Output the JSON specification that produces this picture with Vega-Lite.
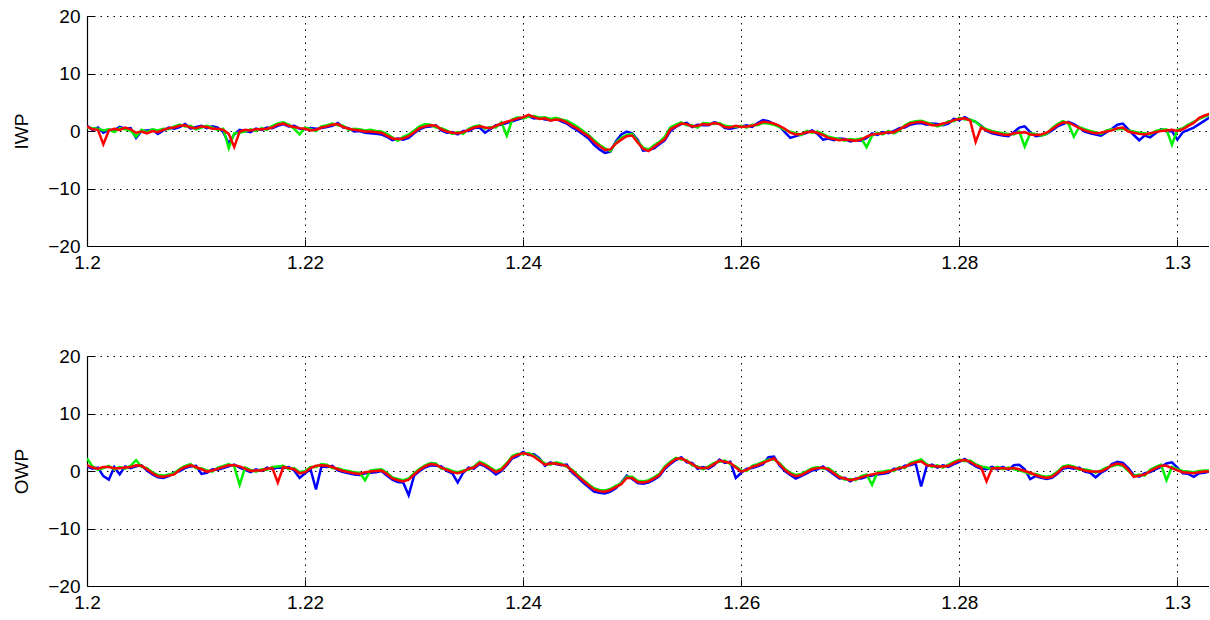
{
"$schema":"https://vega.github.io/schema/vega-lite/v6.json",
"padding":{"left":12,"top":7,"right":0,"bottom":0},
"config":{"view":{"stroke":null},"font":"Liberation Sans",
"axis":{"domainColor":"#000","domainWidth":1.2,"tickColor":"#000","tickSize":-7,"labelPadding":14,"labelFont":"Liberation Sans","labelFontSize":19,"labelColor":"#000","titleFont":"Liberation Sans","titleFontSize":19,"titleFontWeight":"normal","titleColor":"#000","gridColor":"#000","gridDash":[1.5,5],"gridOpacity":1,"gridWidth":1,"titlePadding":16,"labelFlush":false}},
"data":{"values":[
{"x":1.2,"p":"IWP","r":0.8,"g":0.6,"b":0.9},{"x":1.2005,"p":"IWP","r":0.3,"g":0.5,"b":0.2},{"x":1.201,"p":"IWP","r":0.2,"g":0.4,"b":0.6},{"x":1.2015,"p":"IWP","r":-2.3,"g":0.1,"b":-0.3},{"x":1.202,"p":"IWP","r":0.1,"g":0.3,"b":0.2},{"x":1.2025,"p":"IWP","r":0.4,"g":-0.2,"b":0.1},{"x":1.203,"p":"IWP","r":0.2,"g":0.5,"b":0.7},{"x":1.2035,"p":"IWP","r":0.6,"g":0.3,"b":0.4},{"x":1.204,"p":"IWP","r":0.3,"g":0.1,"b":0.5},{"x":1.2045,"p":"IWP","r":-0.3,"g":-1.0,"b":-1.2},
{"x":1.205,"p":"IWP","r":-0.1,"g":0.2,"b":0.0},{"x":1.2055,"p":"IWP","r":-0.4,"g":-0.2,"b":0.1},{"x":1.206,"p":"IWP","r":0.0,"g":0.3,"b":0.2},{"x":1.2065,"p":"IWP","r":-0.2,"g":0.1,"b":-0.5},{"x":1.207,"p":"IWP","r":0.2,"g":0.4,"b":0.1},{"x":1.2075,"p":"IWP","r":0.5,"g":0.3,"b":0.6},{"x":1.208,"p":"IWP","r":0.6,"g":0.8,"b":0.4},{"x":1.2085,"p":"IWP","r":0.9,"g":1.1,"b":0.7},{"x":1.209,"p":"IWP","r":1.0,"g":0.8,"b":1.2},{"x":1.2095,"p":"IWP","r":0.6,"g":0.9,"b":0.4},
{"x":1.21,"p":"IWP","r":0.5,"g":0.3,"b":0.7},{"x":1.2105,"p":"IWP","r":0.8,"g":0.6,"b":0.9},{"x":1.211,"p":"IWP","r":0.7,"g":0.9,"b":0.5},{"x":1.2115,"p":"IWP","r":0.4,"g":0.6,"b":0.8},{"x":1.212,"p":"IWP","r":0.4,"g":0.2,"b":0.6},{"x":1.2125,"p":"IWP","r":0.2,"g":0.4,"b":-0.2},{"x":1.213,"p":"IWP","r":-0.5,"g":-3.0,"b":-2.2},{"x":1.2135,"p":"IWP","r":-2.8,"g":-0.4,"b":-0.6},{"x":1.214,"p":"IWP","r":-0.1,"g":-0.3,"b":0.2},{"x":1.2145,"p":"IWP","r":0.2,"g":-0.1,"b":0.0},
{"x":1.215,"p":"IWP","r":0.1,"g":0.3,"b":-0.2},{"x":1.2155,"p":"IWP","r":0.3,"g":0.0,"b":0.4},{"x":1.216,"p":"IWP","r":0.3,"g":0.5,"b":0.2},{"x":1.2165,"p":"IWP","r":0.4,"g":0.2,"b":0.6},{"x":1.217,"p":"IWP","r":0.6,"g":0.9,"b":0.5},{"x":1.2175,"p":"IWP","r":1.1,"g":1.3,"b":0.9},{"x":1.218,"p":"IWP","r":1.3,"g":1.5,"b":1.2},{"x":1.2185,"p":"IWP","r":0.9,"g":1.1,"b":0.8},{"x":1.219,"p":"IWP","r":0.7,"g":0.4,"b":0.9},{"x":1.2195,"p":"IWP","r":0.5,"g":-0.6,"b":0.4},
{"x":1.22,"p":"IWP","r":0.4,"g":0.6,"b":0.3},{"x":1.2205,"p":"IWP","r":0.1,"g":0.3,"b":0.5},{"x":1.221,"p":"IWP","r":0.2,"g":0.0,"b":0.4},{"x":1.2215,"p":"IWP","r":0.6,"g":0.8,"b":0.5},{"x":1.222,"p":"IWP","r":0.8,"g":1.0,"b":0.7},{"x":1.2225,"p":"IWP","r":1.1,"g":1.3,"b":0.9},{"x":1.223,"p":"IWP","r":1.2,"g":1.0,"b":1.4},{"x":1.2235,"p":"IWP","r":0.7,"g":0.9,"b":0.6},{"x":1.224,"p":"IWP","r":0.4,"g":0.2,"b":0.5},{"x":1.2245,"p":"IWP","r":0.2,"g":0.4,"b":-0.1},
{"x":1.225,"p":"IWP","r":0.1,"g":0.3,"b":0.0},{"x":1.2255,"p":"IWP","r":-0.1,"g":0.1,"b":-0.3},{"x":1.226,"p":"IWP","r":-0.1,"g":0.2,"b":-0.4},{"x":1.2265,"p":"IWP","r":-0.2,"g":0.0,"b":-0.5},{"x":1.227,"p":"IWP","r":-0.3,"g":-0.1,"b":-0.6},{"x":1.2275,"p":"IWP","r":-0.8,"g":-0.5,"b":-1.0},{"x":1.228,"p":"IWP","r":-1.3,"g":-1.1,"b":-1.6},{"x":1.2285,"p":"IWP","r":-1.4,"g":-1.7,"b":-1.3},{"x":1.229,"p":"IWP","r":-1.3,"g":-1.0,"b":-1.5},{"x":1.2295,"p":"IWP","r":-0.9,"g":-0.6,"b":-1.2},
{"x":1.23,"p":"IWP","r":-0.2,"g":0.1,"b":-0.4},{"x":1.2305,"p":"IWP","r":0.5,"g":0.8,"b":0.3},{"x":1.231,"p":"IWP","r":0.8,"g":1.2,"b":0.7},{"x":1.2315,"p":"IWP","r":1.0,"g":1.1,"b":0.8},{"x":1.232,"p":"IWP","r":0.9,"g":0.6,"b":1.0},{"x":1.2325,"p":"IWP","r":0.3,"g":0.5,"b":0.1},{"x":1.233,"p":"IWP","r":-0.1,"g":0.1,"b":-0.3},{"x":1.2335,"p":"IWP","r":-0.3,"g":-0.5,"b":-0.2},{"x":1.234,"p":"IWP","r":-0.4,"g":-0.2,"b":-0.6},{"x":1.2345,"p":"IWP","r":-0.2,"g":-0.5,"b":0.0},
{"x":1.235,"p":"IWP","r":0.2,"g":0.4,"b":0.0},{"x":1.2355,"p":"IWP","r":0.6,"g":0.8,"b":0.5},{"x":1.236,"p":"IWP","r":0.8,"g":1.0,"b":0.6},{"x":1.2365,"p":"IWP","r":0.6,"g":0.4,"b":-0.3},{"x":1.237,"p":"IWP","r":0.5,"g":0.7,"b":0.3},{"x":1.2375,"p":"IWP","r":0.9,"g":0.6,"b":1.0},{"x":1.238,"p":"IWP","r":1.3,"g":1.5,"b":1.1},{"x":1.2385,"p":"IWP","r":1.6,"g":-0.8,"b":1.4},{"x":1.239,"p":"IWP","r":1.9,"g":2.0,"b":1.7},{"x":1.2395,"p":"IWP","r":2.2,"g":2.4,"b":2.0},
{"x":1.24,"p":"IWP","r":2.4,"g":2.2,"b":2.3},{"x":1.2405,"p":"IWP","r":2.8,"g":2.5,"b":2.6},{"x":1.241,"p":"IWP","r":2.4,"g":2.6,"b":2.2},{"x":1.2415,"p":"IWP","r":2.1,"g":2.3,"b":2.3},{"x":1.242,"p":"IWP","r":2.2,"g":2.4,"b":2.0},{"x":1.2425,"p":"IWP","r":1.8,"g":2.1,"b":1.9},{"x":1.243,"p":"IWP","r":2.0,"g":2.3,"b":2.1},{"x":1.2435,"p":"IWP","r":1.9,"g":2.0,"b":1.7},{"x":1.244,"p":"IWP","r":1.5,"g":1.8,"b":1.3},{"x":1.2445,"p":"IWP","r":0.9,"g":1.3,"b":0.6},
{"x":1.245,"p":"IWP","r":0.4,"g":0.7,"b":0.1},{"x":1.2455,"p":"IWP","r":-0.3,"g":0.0,"b":-0.6},{"x":1.246,"p":"IWP","r":-0.9,"g":-0.7,"b":-1.3},{"x":1.2465,"p":"IWP","r":-1.9,"g":-1.6,"b":-2.4},{"x":1.247,"p":"IWP","r":-2.6,"g":-2.4,"b":-3.2},{"x":1.2475,"p":"IWP","r":-3.3,"g":-3.0,"b":-3.8},{"x":1.248,"p":"IWP","r":-3.2,"g":-3.5,"b":-3.6},{"x":1.2485,"p":"IWP","r":-2.2,"g":-2.0,"b":-1.8},{"x":1.249,"p":"IWP","r":-1.5,"g":-1.2,"b":-0.6},{"x":1.2495,"p":"IWP","r":-0.9,"g":-0.7,"b":-0.1},
{"x":1.25,"p":"IWP","r":-0.8,"g":-0.5,"b":-0.4},{"x":1.2505,"p":"IWP","r":-2.0,"g":-1.8,"b":-1.5},{"x":1.251,"p":"IWP","r":-3.1,"g":-2.9,"b":-3.4},{"x":1.2515,"p":"IWP","r":-3.5,"g":-3.2,"b":-3.3},{"x":1.252,"p":"IWP","r":-2.8,"g":-2.5,"b":-3.0},{"x":1.2525,"p":"IWP","r":-2.1,"g":-1.9,"b":-2.3},{"x":1.253,"p":"IWP","r":-1.4,"g":-1.0,"b":-1.6},{"x":1.2535,"p":"IWP","r":0.3,"g":0.6,"b":0.0},{"x":1.254,"p":"IWP","r":0.8,"g":1.1,"b":0.7},{"x":1.2545,"p":"IWP","r":1.3,"g":1.5,"b":1.2},
{"x":1.255,"p":"IWP","r":1.2,"g":1.0,"b":1.4},{"x":1.2555,"p":"IWP","r":0.8,"g":1.0,"b":0.7},{"x":1.256,"p":"IWP","r":0.9,"g":0.6,"b":1.1},{"x":1.2565,"p":"IWP","r":1.2,"g":1.4,"b":1.0},{"x":1.257,"p":"IWP","r":1.1,"g":1.3,"b":1.0},{"x":1.2575,"p":"IWP","r":1.4,"g":1.2,"b":1.5},{"x":1.258,"p":"IWP","r":1.2,"g":1.4,"b":1.3},{"x":1.2585,"p":"IWP","r":0.7,"g":0.9,"b":0.5},{"x":1.259,"p":"IWP","r":0.6,"g":0.8,"b":0.4},{"x":1.2595,"p":"IWP","r":0.9,"g":0.7,"b":0.6},
{"x":1.26,"p":"IWP","r":0.7,"g":0.9,"b":0.8},{"x":1.2605,"p":"IWP","r":0.8,"g":0.6,"b":1.0},{"x":1.261,"p":"IWP","r":0.9,"g":1.1,"b":0.7},{"x":1.2615,"p":"IWP","r":1.2,"g":1.0,"b":1.4},{"x":1.262,"p":"IWP","r":1.6,"g":1.4,"b":1.9},{"x":1.2625,"p":"IWP","r":1.5,"g":1.3,"b":1.7},{"x":1.263,"p":"IWP","r":1.3,"g":1.1,"b":1.2},{"x":1.2635,"p":"IWP","r":0.9,"g":0.7,"b":0.8},{"x":1.264,"p":"IWP","r":0.4,"g":0.2,"b":-0.2},{"x":1.2645,"p":"IWP","r":-0.3,"g":-0.1,"b":-1.2},
{"x":1.265,"p":"IWP","r":-0.6,"g":-0.4,"b":-0.9},{"x":1.2655,"p":"IWP","r":-0.5,"g":-0.7,"b":-0.6},{"x":1.266,"p":"IWP","r":-0.2,"g":0.0,"b":-0.3},{"x":1.2665,"p":"IWP","r":-0.1,"g":-0.3,"b":0.1},{"x":1.267,"p":"IWP","r":-0.3,"g":-0.1,"b":-0.5},{"x":1.2675,"p":"IWP","r":-0.7,"g":-0.5,"b":-1.5},{"x":1.268,"p":"IWP","r":-1.2,"g":-1.0,"b":-1.3},{"x":1.2685,"p":"IWP","r":-1.4,"g":-1.2,"b":-1.6},{"x":1.269,"p":"IWP","r":-1.6,"g":-1.4,"b":-1.3},{"x":1.2695,"p":"IWP","r":-1.5,"g":-1.7,"b":-1.4},
{"x":1.27,"p":"IWP","r":-1.6,"g":-1.4,"b":-1.8},{"x":1.2705,"p":"IWP","r":-1.7,"g":-1.5,"b":-1.6},{"x":1.271,"p":"IWP","r":-1.5,"g":-1.3,"b":-1.7},{"x":1.2715,"p":"IWP","r":-1.0,"g":-2.8,"b":-1.2},{"x":1.272,"p":"IWP","r":-0.6,"g":-0.8,"b":-0.4},{"x":1.2725,"p":"IWP","r":-0.5,"g":-0.3,"b":-0.7},{"x":1.273,"p":"IWP","r":-0.4,"g":-0.6,"b":-0.2},{"x":1.2735,"p":"IWP","r":-0.2,"g":0.0,"b":-0.4},{"x":1.274,"p":"IWP","r":-0.2,"g":-0.4,"b":0.0},{"x":1.2745,"p":"IWP","r":0.3,"g":0.1,"b":0.5},
{"x":1.275,"p":"IWP","r":0.8,"g":1.0,"b":0.6},{"x":1.2755,"p":"IWP","r":1.3,"g":1.5,"b":1.1},{"x":1.276,"p":"IWP","r":1.5,"g":1.7,"b":1.3},{"x":1.2765,"p":"IWP","r":1.6,"g":1.8,"b":1.4},{"x":1.277,"p":"IWP","r":1.3,"g":1.5,"b":1.1},{"x":1.2775,"p":"IWP","r":1.0,"g":1.2,"b":1.3},{"x":1.278,"p":"IWP","r":1.0,"g":0.8,"b":1.2},{"x":1.2785,"p":"IWP","r":1.3,"g":1.1,"b":1.0},{"x":1.279,"p":"IWP","r":1.5,"g":1.7,"b":1.3},{"x":1.2795,"p":"IWP","r":1.9,"g":1.7,"b":2.1},
{"x":1.28,"p":"IWP","r":2.1,"g":2.3,"b":1.9},{"x":1.2805,"p":"IWP","r":2.2,"g":2.0,"b":2.4},{"x":1.281,"p":"IWP","r":1.8,"g":2.0,"b":1.9},{"x":1.2815,"p":"IWP","r":-1.9,"g":1.6,"b":1.6},{"x":1.282,"p":"IWP","r":0.6,"g":0.8,"b":0.9},{"x":1.2825,"p":"IWP","r":0.1,"g":0.3,"b":0.0},{"x":1.283,"p":"IWP","r":-0.2,"g":0.0,"b":-0.4},{"x":1.2835,"p":"IWP","r":-0.4,"g":-0.2,"b":-0.6},{"x":1.284,"p":"IWP","r":-0.6,"g":-0.4,"b":-0.8},{"x":1.2845,"p":"IWP","r":-0.7,"g":-0.5,"b":-0.9},
{"x":1.285,"p":"IWP","r":-0.4,"g":-0.6,"b":-0.2},{"x":1.2855,"p":"IWP","r":-0.3,"g":-0.1,"b":0.6},{"x":1.286,"p":"IWP","r":-0.2,"g":-2.7,"b":0.8},{"x":1.2865,"p":"IWP","r":-0.6,"g":-0.4,"b":-0.2},{"x":1.287,"p":"IWP","r":-0.7,"g":-0.5,"b":-0.9},{"x":1.2875,"p":"IWP","r":-0.6,"g":-0.8,"b":-0.8},{"x":1.288,"p":"IWP","r":-0.3,"g":-0.5,"b":-0.5},{"x":1.2885,"p":"IWP","r":0.3,"g":0.5,"b":0.1},{"x":1.289,"p":"IWP","r":1.0,"g":1.2,"b":0.8},{"x":1.2895,"p":"IWP","r":1.5,"g":1.7,"b":1.2},
{"x":1.29,"p":"IWP","r":1.5,"g":1.3,"b":1.6},{"x":1.2905,"p":"IWP","r":1.0,"g":-1.0,"b":1.2},{"x":1.291,"p":"IWP","r":0.5,"g":0.7,"b":0.6},{"x":1.2915,"p":"IWP","r":0.1,"g":0.3,"b":-0.1},{"x":1.292,"p":"IWP","r":-0.2,"g":0.0,"b":-0.4},{"x":1.2925,"p":"IWP","r":-0.4,"g":-0.2,"b":-0.6},{"x":1.293,"p":"IWP","r":-0.3,"g":-0.5,"b":-0.8},{"x":1.2935,"p":"IWP","r":-0.1,"g":0.1,"b":-0.2},{"x":1.294,"p":"IWP","r":0.1,"g":0.3,"b":0.4},{"x":1.2945,"p":"IWP","r":0.5,"g":0.3,"b":1.1},
{"x":1.295,"p":"IWP","r":0.6,"g":0.4,"b":1.3},{"x":1.2955,"p":"IWP","r":-0.1,"g":0.1,"b":0.3},{"x":1.296,"p":"IWP","r":-0.3,"g":-0.1,"b":-0.7},{"x":1.2965,"p":"IWP","r":-0.5,"g":-0.3,"b":-1.6},{"x":1.297,"p":"IWP","r":-0.6,"g":-0.4,"b":-0.8},{"x":1.2975,"p":"IWP","r":-0.4,"g":-0.6,"b":-1.1},{"x":1.298,"p":"IWP","r":-0.2,"g":0.0,"b":-0.4},{"x":1.2985,"p":"IWP","r":0.0,"g":0.2,"b":0.3},{"x":1.299,"p":"IWP","r":0.1,"g":0.3,"b":-0.1},{"x":1.2995,"p":"IWP","r":0.2,"g":-2.4,"b":0.0},
{"x":1.3,"p":"IWP","r":0.0,"g":0.2,"b":-1.5},{"x":1.3005,"p":"IWP","r":0.3,"g":0.5,"b":-0.2},{"x":1.301,"p":"IWP","r":0.9,"g":1.1,"b":0.2},{"x":1.3015,"p":"IWP","r":1.4,"g":1.6,"b":0.6},{"x":1.302,"p":"IWP","r":2.3,"g":2.1,"b":1.2},{"x":1.3025,"p":"IWP","r":2.7,"g":2.5,"b":1.8},{"x":1.303,"p":"IWP","r":3.0,"g":2.8,"b":2.4},
{"x":1.2,"p":"OWP","r":1.0,"g":2.2,"b":0.8},{"x":1.2005,"p":"OWP","r":0.6,"g":0.8,"b":0.4},{"x":1.201,"p":"OWP","r":0.4,"g":0.2,"b":0.6},{"x":1.2015,"p":"OWP","r":0.7,"g":0.5,"b":-0.9},{"x":1.202,"p":"OWP","r":0.7,"g":0.9,"b":-1.5},{"x":1.2025,"p":"OWP","r":0.5,"g":0.3,"b":0.7},{"x":1.203,"p":"OWP","r":0.5,"g":0.7,"b":-0.6},{"x":1.2035,"p":"OWP","r":0.6,"g":0.4,"b":0.8},{"x":1.204,"p":"OWP","r":0.7,"g":0.9,"b":0.5},{"x":1.2045,"p":"OWP","r":1.0,"g":1.9,"b":0.8},
{"x":1.205,"p":"OWP","r":0.9,"g":0.7,"b":1.0},{"x":1.2055,"p":"OWP","r":0.3,"g":0.5,"b":0.1},{"x":1.206,"p":"OWP","r":-0.4,"g":-0.2,"b":-0.6},{"x":1.2065,"p":"OWP","r":-0.9,"g":-0.7,"b":-1.1},{"x":1.207,"p":"OWP","r":-1.0,"g":-0.8,"b":-1.2},{"x":1.2075,"p":"OWP","r":-0.8,"g":-0.6,"b":-0.9},{"x":1.208,"p":"OWP","r":-0.6,"g":-0.4,"b":-0.3},{"x":1.2085,"p":"OWP","r":0.2,"g":0.4,"b":0.0},{"x":1.209,"p":"OWP","r":0.7,"g":0.9,"b":0.5},{"x":1.2095,"p":"OWP","r":1.0,"g":1.2,"b":0.8},
{"x":1.21,"p":"OWP","r":0.7,"g":0.5,"b":0.9},{"x":1.2105,"p":"OWP","r":0.3,"g":0.5,"b":-0.5},{"x":1.211,"p":"OWP","r":-0.1,"g":0.1,"b":-0.3},{"x":1.2115,"p":"OWP","r":0.1,"g":-0.1,"b":0.3},{"x":1.212,"p":"OWP","r":0.4,"g":0.6,"b":0.2},{"x":1.2125,"p":"OWP","r":0.7,"g":0.9,"b":0.5},{"x":1.213,"p":"OWP","r":1.0,"g":1.2,"b":0.8},{"x":1.2135,"p":"OWP","r":1.0,"g":0.8,"b":1.1},{"x":1.214,"p":"OWP","r":0.8,"g":-2.4,"b":0.6},{"x":1.2145,"p":"OWP","r":0.4,"g":0.6,"b":0.2},
{"x":1.215,"p":"OWP","r":0.0,"g":0.2,"b":-0.2},{"x":1.2155,"p":"OWP","r":0.1,"g":-0.1,"b":0.3},{"x":1.216,"p":"OWP","r":0.1,"g":0.3,"b":0.0},{"x":1.2165,"p":"OWP","r":0.4,"g":0.2,"b":0.6},{"x":1.217,"p":"OWP","r":0.5,"g":0.7,"b":0.3},{"x":1.2175,"p":"OWP","r":-2.0,"g":0.8,"b":0.6},{"x":1.218,"p":"OWP","r":0.7,"g":0.9,"b":0.5},{"x":1.2185,"p":"OWP","r":0.5,"g":0.3,"b":0.7},{"x":1.219,"p":"OWP","r":0.3,"g":0.5,"b":0.1},{"x":1.2195,"p":"OWP","r":-0.4,"g":-0.2,"b":-1.2},
{"x":1.22,"p":"OWP","r":-0.2,"g":0.0,"b":-0.4},{"x":1.2205,"p":"OWP","r":0.5,"g":0.7,"b":0.3},{"x":1.221,"p":"OWP","r":0.9,"g":0.7,"b":-3.2},{"x":1.2215,"p":"OWP","r":1.0,"g":1.2,"b":0.8},{"x":1.222,"p":"OWP","r":0.9,"g":1.1,"b":0.7},{"x":1.2225,"p":"OWP","r":0.7,"g":0.5,"b":0.9},{"x":1.223,"p":"OWP","r":0.3,"g":0.5,"b":0.1},{"x":1.2235,"p":"OWP","r":0.0,"g":0.2,"b":-0.2},{"x":1.224,"p":"OWP","r":-0.2,"g":0.0,"b":-0.4},{"x":1.2245,"p":"OWP","r":-0.4,"g":-0.2,"b":-0.6},
{"x":1.225,"p":"OWP","r":-0.5,"g":-0.3,"b":-0.7},{"x":1.2255,"p":"OWP","r":-0.2,"g":-1.6,"b":-0.4},{"x":1.226,"p":"OWP","r":-0.1,"g":0.1,"b":-0.3},{"x":1.2265,"p":"OWP","r":0.0,"g":0.2,"b":-0.2},{"x":1.227,"p":"OWP","r":0.1,"g":0.3,"b":0.0},{"x":1.2275,"p":"OWP","r":-0.5,"g":-0.3,"b":-0.8},{"x":1.228,"p":"OWP","r":-1.3,"g":-1.1,"b":-1.5},{"x":1.2285,"p":"OWP","r":-1.6,"g":-1.4,"b":-1.9},{"x":1.229,"p":"OWP","r":-1.8,"g":-1.6,"b":-2.0},{"x":1.2295,"p":"OWP","r":-1.5,"g":-1.3,"b":-4.2},
{"x":1.23,"p":"OWP","r":-0.6,"g":-0.4,"b":-0.8},{"x":1.2305,"p":"OWP","r":0.2,"g":0.4,"b":0.0},{"x":1.231,"p":"OWP","r":0.8,"g":1.0,"b":0.6},{"x":1.2315,"p":"OWP","r":1.2,"g":1.4,"b":1.0},{"x":1.232,"p":"OWP","r":1.1,"g":1.3,"b":0.9},{"x":1.2325,"p":"OWP","r":0.6,"g":0.4,"b":0.8},{"x":1.233,"p":"OWP","r":0.2,"g":0.4,"b":0.0},{"x":1.2335,"p":"OWP","r":-0.2,"g":0.0,"b":-0.4},{"x":1.234,"p":"OWP","r":-0.4,"g":-0.2,"b":-2.0},{"x":1.2345,"p":"OWP","r":-0.1,"g":0.1,"b":-0.3},
{"x":1.235,"p":"OWP","r":0.4,"g":0.2,"b":0.6},{"x":1.2355,"p":"OWP","r":0.6,"g":0.8,"b":0.4},{"x":1.236,"p":"OWP","r":1.4,"g":1.6,"b":1.2},{"x":1.2365,"p":"OWP","r":1.0,"g":1.2,"b":0.8},{"x":1.237,"p":"OWP","r":0.4,"g":0.6,"b":0.2},{"x":1.2375,"p":"OWP","r":-0.2,"g":0.0,"b":-0.6},{"x":1.238,"p":"OWP","r":0.2,"g":0.4,"b":0.0},{"x":1.2385,"p":"OWP","r":1.2,"g":1.4,"b":1.0},{"x":1.239,"p":"OWP","r":2.4,"g":2.6,"b":2.2},{"x":1.2395,"p":"OWP","r":2.8,"g":3.0,"b":2.6},
{"x":1.24,"p":"OWP","r":3.1,"g":2.9,"b":3.3},{"x":1.2405,"p":"OWP","r":2.9,"g":3.1,"b":2.8},{"x":1.241,"p":"OWP","r":2.5,"g":2.7,"b":2.9},{"x":1.2415,"p":"OWP","r":1.8,"g":2.0,"b":2.2},{"x":1.242,"p":"OWP","r":1.1,"g":1.3,"b":0.9},{"x":1.2425,"p":"OWP","r":1.3,"g":1.1,"b":1.5},{"x":1.243,"p":"OWP","r":1.3,"g":1.5,"b":1.2},{"x":1.2435,"p":"OWP","r":1.1,"g":1.3,"b":1.0},{"x":1.244,"p":"OWP","r":0.9,"g":0.7,"b":1.1},{"x":1.2445,"p":"OWP","r":0.0,"g":0.2,"b":-0.3},
{"x":1.245,"p":"OWP","r":-0.9,"g":-0.7,"b":-1.1},{"x":1.2455,"p":"OWP","r":-1.7,"g":-1.5,"b":-2.0},{"x":1.246,"p":"OWP","r":-2.5,"g":-2.3,"b":-2.8},{"x":1.2465,"p":"OWP","r":-3.2,"g":-3.0,"b":-3.6},{"x":1.247,"p":"OWP","r":-3.5,"g":-3.3,"b":-3.8},{"x":1.2475,"p":"OWP","r":-3.6,"g":-3.4,"b":-3.9},{"x":1.248,"p":"OWP","r":-3.3,"g":-3.1,"b":-3.6},{"x":1.2485,"p":"OWP","r":-2.8,"g":-2.6,"b":-3.0},{"x":1.249,"p":"OWP","r":-2.3,"g":-2.1,"b":-2.0},{"x":1.2495,"p":"OWP","r":-1.2,"g":-1.0,"b":-0.8},
{"x":1.25,"p":"OWP","r":-1.2,"g":-1.0,"b":-1.4},{"x":1.2505,"p":"OWP","r":-1.9,"g":-1.7,"b":-2.1},{"x":1.251,"p":"OWP","r":-2.0,"g":-1.8,"b":-2.2},{"x":1.2515,"p":"OWP","r":-1.8,"g":-1.6,"b":-2.0},{"x":1.252,"p":"OWP","r":-1.3,"g":-1.1,"b":-1.5},{"x":1.2525,"p":"OWP","r":-0.7,"g":-0.5,"b":-0.9},{"x":1.253,"p":"OWP","r":0.6,"g":0.8,"b":0.4},{"x":1.2535,"p":"OWP","r":1.4,"g":1.6,"b":1.2},{"x":1.254,"p":"OWP","r":2.1,"g":2.3,"b":1.9},{"x":1.2545,"p":"OWP","r":2.2,"g":2.0,"b":2.4},
{"x":1.255,"p":"OWP","r":1.7,"g":1.9,"b":1.5},{"x":1.2555,"p":"OWP","r":1.2,"g":1.0,"b":1.4},{"x":1.256,"p":"OWP","r":0.6,"g":0.8,"b":0.4},{"x":1.2565,"p":"OWP","r":0.5,"g":0.3,"b":0.7},{"x":1.257,"p":"OWP","r":0.6,"g":0.8,"b":0.4},{"x":1.2575,"p":"OWP","r":1.2,"g":1.4,"b":1.0},{"x":1.258,"p":"OWP","r":1.8,"g":1.6,"b":2.0},{"x":1.2585,"p":"OWP","r":1.6,"g":1.8,"b":1.4},{"x":1.259,"p":"OWP","r":1.4,"g":1.2,"b":1.6},{"x":1.2595,"p":"OWP","r":0.6,"g":0.8,"b":-1.2},
{"x":1.26,"p":"OWP","r":-0.1,"g":0.1,"b":-0.3},{"x":1.2605,"p":"OWP","r":0.2,"g":0.0,"b":0.4},{"x":1.261,"p":"OWP","r":0.7,"g":0.9,"b":0.5},{"x":1.2615,"p":"OWP","r":1.0,"g":1.2,"b":0.8},{"x":1.262,"p":"OWP","r":1.4,"g":1.6,"b":1.2},{"x":1.2625,"p":"OWP","r":1.8,"g":2.0,"b":2.4},{"x":1.263,"p":"OWP","r":2.2,"g":2.0,"b":2.5},{"x":1.2635,"p":"OWP","r":1.2,"g":1.4,"b":1.0},{"x":1.264,"p":"OWP","r":0.2,"g":0.4,"b":0.0},{"x":1.2645,"p":"OWP","r":-0.5,"g":-0.3,"b":-0.7},
{"x":1.265,"p":"OWP","r":-0.9,"g":-0.7,"b":-1.3},{"x":1.2655,"p":"OWP","r":-0.7,"g":-0.5,"b":-0.9},{"x":1.266,"p":"OWP","r":-0.2,"g":0.0,"b":-0.4},{"x":1.2665,"p":"OWP","r":0.3,"g":0.5,"b":0.1},{"x":1.267,"p":"OWP","r":0.5,"g":0.7,"b":0.3},{"x":1.2675,"p":"OWP","r":0.6,"g":0.4,"b":0.8},{"x":1.268,"p":"OWP","r":0.3,"g":0.5,"b":0.1},{"x":1.2685,"p":"OWP","r":-0.4,"g":-0.2,"b":-0.6},{"x":1.269,"p":"OWP","r":-1.1,"g":-0.9,"b":-1.3},{"x":1.2695,"p":"OWP","r":-1.3,"g":-1.5,"b":-1.2},
{"x":1.27,"p":"OWP","r":-1.6,"g":-1.4,"b":-1.8},{"x":1.2705,"p":"OWP","r":-1.4,"g":-1.6,"b":-1.3},{"x":1.271,"p":"OWP","r":-1.1,"g":-0.9,"b":-1.3},{"x":1.2715,"p":"OWP","r":-0.8,"g":-0.6,"b":-1.0},{"x":1.272,"p":"OWP","r":-0.6,"g":-2.4,"b":-0.8},{"x":1.2725,"p":"OWP","r":-0.4,"g":-0.2,"b":-0.6},{"x":1.273,"p":"OWP","r":-0.3,"g":-0.1,"b":-0.5},{"x":1.2735,"p":"OWP","r":-0.1,"g":0.1,"b":-0.3},{"x":1.274,"p":"OWP","r":0.2,"g":0.0,"b":0.4},{"x":1.2745,"p":"OWP","r":0.5,"g":0.7,"b":0.3},
{"x":1.275,"p":"OWP","r":0.7,"g":0.5,"b":0.9},{"x":1.2755,"p":"OWP","r":1.2,"g":1.4,"b":1.0},{"x":1.276,"p":"OWP","r":1.5,"g":1.7,"b":1.3},{"x":1.2765,"p":"OWP","r":1.7,"g":2.0,"b":-2.7},{"x":1.277,"p":"OWP","r":1.0,"g":1.2,"b":0.8},{"x":1.2775,"p":"OWP","r":0.9,"g":0.7,"b":1.1},{"x":1.278,"p":"OWP","r":0.8,"g":1.0,"b":0.6},{"x":1.2785,"p":"OWP","r":0.8,"g":0.6,"b":1.0},{"x":1.279,"p":"OWP","r":0.9,"g":1.1,"b":0.7},{"x":1.2795,"p":"OWP","r":1.4,"g":1.6,"b":1.2},
{"x":1.28,"p":"OWP","r":1.8,"g":2.0,"b":1.6},{"x":1.2805,"p":"OWP","r":1.9,"g":1.7,"b":2.1},{"x":1.281,"p":"OWP","r":1.6,"g":1.8,"b":1.4},{"x":1.2815,"p":"OWP","r":1.0,"g":1.2,"b":0.8},{"x":1.282,"p":"OWP","r":0.6,"g":0.8,"b":0.4},{"x":1.2825,"p":"OWP","r":-1.8,"g":0.6,"b":0.3},{"x":1.283,"p":"OWP","r":0.5,"g":0.3,"b":0.7},{"x":1.2835,"p":"OWP","r":0.5,"g":0.7,"b":0.3},{"x":1.284,"p":"OWP","r":0.5,"g":0.3,"b":0.7},{"x":1.2845,"p":"OWP","r":0.4,"g":0.6,"b":0.2},
{"x":1.285,"p":"OWP","r":0.5,"g":0.3,"b":1.0},{"x":1.2855,"p":"OWP","r":0.3,"g":0.1,"b":1.1},{"x":1.286,"p":"OWP","r":0.0,"g":-0.2,"b":0.3},{"x":1.2865,"p":"OWP","r":-0.3,"g":-0.5,"b":-1.4},{"x":1.287,"p":"OWP","r":-0.7,"g":-0.5,"b":-0.9},{"x":1.2875,"p":"OWP","r":-1.0,"g":-0.8,"b":-1.2},{"x":1.288,"p":"OWP","r":-1.2,"g":-1.0,"b":-1.4},{"x":1.2885,"p":"OWP","r":-1.0,"g":-0.8,"b":-1.2},{"x":1.289,"p":"OWP","r":-0.3,"g":-0.1,"b":-0.5},{"x":1.2895,"p":"OWP","r":0.6,"g":0.8,"b":0.4},
{"x":1.29,"p":"OWP","r":0.8,"g":1.0,"b":0.6},{"x":1.2905,"p":"OWP","r":0.6,"g":0.8,"b":0.4},{"x":1.291,"p":"OWP","r":0.4,"g":0.2,"b":0.6},{"x":1.2915,"p":"OWP","r":0.1,"g":0.3,"b":-0.1},{"x":1.292,"p":"OWP","r":-0.1,"g":0.1,"b":-0.3},{"x":1.2925,"p":"OWP","r":-0.1,"g":-0.3,"b":-1.1},{"x":1.293,"p":"OWP","r":-0.1,"g":0.1,"b":-0.3},{"x":1.2935,"p":"OWP","r":0.4,"g":0.6,"b":0.2},{"x":1.294,"p":"OWP","r":1.0,"g":0.8,"b":1.2},{"x":1.2945,"p":"OWP","r":1.3,"g":1.1,"b":1.6},
{"x":1.295,"p":"OWP","r":1.1,"g":0.9,"b":1.4},{"x":1.2955,"p":"OWP","r":0.2,"g":0.0,"b":0.5},{"x":1.296,"p":"OWP","r":-1.0,"g":-0.8,"b":-0.7},{"x":1.2965,"p":"OWP","r":-0.8,"g":-0.6,"b":-1.0},{"x":1.297,"p":"OWP","r":-0.6,"g":-0.8,"b":-0.4},{"x":1.2975,"p":"OWP","r":0.0,"g":0.2,"b":-0.2},{"x":1.298,"p":"OWP","r":0.5,"g":0.7,"b":0.3},{"x":1.2985,"p":"OWP","r":0.9,"g":1.1,"b":0.7},{"x":1.299,"p":"OWP","r":0.9,"g":-1.6,"b":1.3},{"x":1.2995,"p":"OWP","r":0.5,"g":0.7,"b":1.5},
{"x":1.3,"p":"OWP","r":0.1,"g":0.3,"b":0.6},{"x":1.3005,"p":"OWP","r":-0.2,"g":0.0,"b":-0.4},{"x":1.301,"p":"OWP","r":-0.3,"g":-0.1,"b":-0.5},{"x":1.3015,"p":"OWP","r":-0.4,"g":-0.2,"b":-1.0},{"x":1.302,"p":"OWP","r":-0.2,"g":0.0,"b":-0.4},{"x":1.3025,"p":"OWP","r":-0.1,"g":0.1,"b":-0.3},{"x":1.303,"p":"OWP","r":-0.1,"g":0.1,"b":0.0}
]},
"transform":[{"fold":["b","g","r"],"as":["s","v"]}],
"vconcat":[
{"width":1122,"height":230,
"transform":[{"filter":"datum.p === 'IWP'"}],
"mark":{"type":"line","strokeWidth":2.5,"clip":true},
"encoding":{
"x":{"field":"x","type":"quantitative","scale":{"domain":[1.2,1.3029],"nice":false,"zero":false},"axis":{"values":[1.2,1.22,1.24,1.26,1.28,1.3],"format":"~g","title":null}},
"y":{"field":"v","type":"quantitative","scale":{"domain":[-20,20],"nice":false},"axis":{"values":[-20,-10,0,10,20],"title":"IWP"}},
"color":{"field":"s","type":"nominal","scale":{"domain":["b","g","r"],"range":["#0000ff","#00ee00","#ff0000"]},"legend":null}}},
{"width":1122,"height":230,
"transform":[{"filter":"datum.p === 'OWP'"}],
"mark":{"type":"line","strokeWidth":2.5,"clip":true},
"encoding":{
"x":{"field":"x","type":"quantitative","scale":{"domain":[1.2,1.3029],"nice":false,"zero":false},"axis":{"values":[1.2,1.22,1.24,1.26,1.28,1.3],"format":"~g","title":null}},
"y":{"field":"v","type":"quantitative","scale":{"domain":[-20,20],"nice":false},"axis":{"values":[-20,-10,0,10,20],"title":"OWP"}},
"color":{"field":"s","type":"nominal","scale":{"domain":["b","g","r"],"range":["#0000ff","#00ee00","#ff0000"]},"legend":null}}}
],
"spacing":110,
"bounds":"flush"
}
